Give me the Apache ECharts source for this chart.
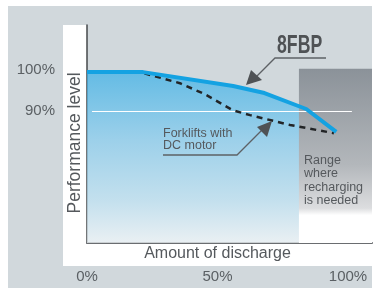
<!DOCTYPE html>
<html>
<head>
<meta charset="utf-8">
<script src="https://cdn.jsdelivr.net/npm/echarts@6/dist/echarts.min.js"></script>
<style>
  html, body { margin: 0; padding: 0; background: #ffffff; }
  #chart { width: 379px; height: 290px; }
</style>
</head>
<body>
<div id="chart"></div>
<script>
// 8FBP curve (amount of discharge %, performance level %)
const discharge8fbp = [0, 21.5, 56, 68, 84, 95.5]
const level8fbp = [99.5, 99.5, 96.1, 94.4, 90.5, 84.9]
// forklifts with DC motor
const dischargeDc = [22, 35.6, 45.2, 55.9, 62.5, 77.8, 94.6]
const levelDc = [99.2, 96.8, 94.1, 90.2, 89.0, 86.6, 84.6]
// recharge range starts here
const rechargeFrom = 81.2
const refLevel = 90
const refSpan = [1.9, 101.5]
const xTicks = [0, 50, 100]
const yTicks = [90, 100]
const xMax = 109.2
const yMin = 57.8
const yMax = 111

const font = '"Liberation Sans", Arial, sans-serif'
const textGrey = '#5b6064'

const pairs = (xs, ys) => xs.map((x, i) => [x, ys[i]])

const getOptions = () => ({
    backgroundColor: '#ffffff',
    animation: false,
    grid: {
        left: 87,
        right: 7,
        top: 25,
        bottom: 47,
        show: true,
        backgroundColor: '#d1d8dc',
        borderWidth: 0
    },
    graphic: [
        // outer frame + white L panel
        { type: 'rect', z: -10, shape: { x: 8, y: 6, width: 364, height: 282 }, style: { fill: '#d1d8dc' } },
        { type: 'rect', z: -9, shape: { x: 63, y: 25, width: 309, height: 241 }, style: { fill: '#ffffff' } },
        // 8FBP label and arrow
        {
            type: 'text', z: 20, x: 277, y: 33, scaleX: 0.68,
            style: { text: '8FBP', font: 'bold 26px ' + font, fill: '#4f5255' }
        },
        { type: 'polyline', z: 20, shape: { points: [[326, 58], [275, 58], [256, 77]] }, style: { stroke: '#5d6165', lineWidth: 1.3, fill: null } },
        { type: 'polygon', z: 20, shape: { points: [[246, 85], [251, 70], [262, 80]] }, style: { fill: '#4f5255' } },
        // DC motor label and arrow
        {
            type: 'text', z: 20, x: 163, y: 128,
            style: { text: 'Forklifts with\nDC motor', font: '12.5px ' + font, fill: '#55595d', lineHeight: 12 }
        },
        { type: 'polyline', z: 20, shape: { points: [[163, 155], [237, 155], [262, 130]] }, style: { stroke: '#5d6165', lineWidth: 1.3, fill: null } },
        { type: 'polygon', z: 20, shape: { points: [[272, 121], [257, 127], [267, 137]] }, style: { fill: '#4f5255' } },
        // recharge text
        {
            type: 'text', z: 20, x: 304, y: 154,
            style: { text: 'Range\nwhere\nrecharging\nis needed', font: '12.5px ' + font, fill: '#55595d', lineHeight: 13.3 }
        }
    ],
    xAxis: {
        type: 'value',
        min: 0,
        max: xMax,
        name: 'Amount of discharge',
        nameLocation: 'middle',
        nameGap: 3,
        nameMoveOverlap: false,
        nameTextStyle: { color: '#55595d', fontSize: 16, fontFamily: font, padding: [0, 24, 0, 0] },
        splitLine: { show: false },
        axisTick: { show: false },
        axisLine: { show: true, lineStyle: { color: '#6a6d70', width: 2 } },
        axisLabel: {
            customValues: xTicks,
            margin: 26,
            color: textGrey,
            fontSize: 15,
            fontFamily: font,
            formatter: v => v + '%'
        }
    },
    yAxis: {
        type: 'value',
        min: yMin,
        max: yMax,
        name: 'Performance level',
        nameLocation: 'middle',
        nameRotate: 90,
        nameGap: 3,
        nameMoveOverlap: false,
        nameTextStyle: { color: '#55595d', fontSize: 17.5, fontFamily: font, padding: [0, 18, 0, 0] },
        splitLine: { show: false },
        axisTick: { show: false },
        axisLine: { show: true, lineStyle: { color: '#45484b', width: 1.5 } },
        axisLabel: {
            customValues: yTicks,
            margin: 32,
            color: textGrey,
            fontSize: 15,
            fontFamily: font,
            formatter: v => v + '%'
        }
    },
    series: [
        {
            // blue fill under the 8FBP curve
            type: 'line',
            z: 1,
            data: pairs(discharge8fbp, level8fbp),
            symbol: 'none',
            lineStyle: { width: 0 },
            areaStyle: {
                origin: 'start',
                color: new echarts.graphic.LinearGradient(0, 0, 0, 1, [
                    { offset: 0, color: '#35afe8' },
                    { offset: 0.4, color: '#86cdf0' },
                    { offset: 0.75, color: '#bde3f5' },
                    { offset: 1, color: '#f4fafd' }
                ])
            },
            markArea: {
                z: 2,
                silent: true,
                itemStyle: {
                    color: new echarts.graphic.LinearGradient(0, 0, 0, 1, [
                        { offset: 0, color: '#8b9299' },
                        { offset: 0.55, color: '#b3b7bb' },
                        { offset: 0.8, color: '#dcdddf' },
                        { offset: 0.84, color: '#ffffff' },
                        { offset: 1, color: '#ffffff' }
                    ])
                },
                data: [[{ xAxis: rechargeFrom, yAxis: 100.3 }, { xAxis: xMax, yAxis: yMin }]]
            }
        },
        {
            type: 'line',
            z: 3,
            data: pairs(dischargeDc, levelDc),
            symbol: 'none',
            lineStyle: { color: '#222426', width: 2.5, type: [6, 5] },
            markLine: {
                z: 3,
                silent: true,
                symbol: 'none',
                label: { show: false },
                lineStyle: { color: '#ffffff', width: 1, type: 'solid' },
                data: [[{ coord: [refSpan[0], refLevel] }, { coord: [refSpan[1], refLevel] }]]
            }
        },
        {
            type: 'line',
            z: 4,
            data: pairs(discharge8fbp, level8fbp),
            symbol: 'none',
            lineStyle: { color: '#14a2e2', width: 4 }
        }
    ]
})

const chart = echarts.init(document.getElementById('chart'))
chart.setOption(getOptions())
</script>
</body>
</html>
